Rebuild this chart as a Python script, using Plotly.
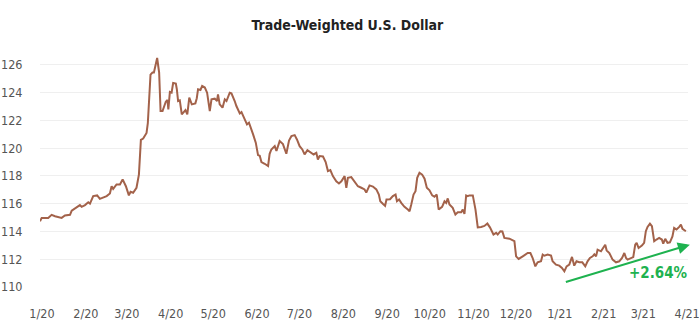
import pandas as pd
import plotly.graph_objects as go

# Days since 2020-01-01 and index values
day = [-1.4, -0.2, 4.4, 6.8, 9.2, 12.7, 13.9, 16.2, 19.8, 21.0, 24.5, 26.8, 28.0, 30.4, 32.7, 33.9,
       36.2, 39.0, 40.9, 45.7, 48.0, 49.2, 50.3, 52.7, 55.1, 57.0, 59.3, 61.4, 62.6, 64.4, 66.8, 68.5,
       69.9, 71.5, 73.9, 74.8, 76.7, 78.1, 79.1, 79.8, 81.4, 82.8, 83.8, 85.2, 87.5, 88.7, 89.3, 90.4,
       91.6, 92.7, 94.6, 95.3, 96.2, 97.4, 98.8, 101.4, 102.7, 104.1, 105.9, 108.4, 109.4, 110.3, 112.0,
       113.2, 115.1, 116.7, 118.6, 119.8, 122.1, 123.7, 124.4, 125.6, 127.6, 129.2, 130.4, 132.7, 133.9,
       136.2, 137.4, 139.8, 141.0, 143.3, 144.9, 146.3, 148.0, 149.2, 151.1, 152.7, 153.9, 155.1, 157.4,
       159.8, 160.9, 162.1, 164.5, 165.7, 168.0, 170.3, 172.7, 174.6, 176.3, 178.6, 180.2, 182.1, 184.0,
       185.6, 187.6, 189.9, 192.0, 193.9, 195.0, 196.2, 198.6, 200.5, 202.1, 203.8, 205.6, 208.0, 209.9,
       211.6, 213.9, 215.1, 216.2, 218.6, 221.0, 223.3, 225.7, 228.0, 229.2, 231.5, 233.9, 236.3, 238.1,
       239.1, 240.9, 242.5, 243.5, 246.0, 248.0, 249.9, 250.9, 252.4, 253.9, 256.2, 258.6, 259.8, 261.0,
       262.6, 264.0, 265.2, 266.8, 268.7, 270.4, 272.0, 273.9, 275.8, 277.4, 279.0, 280.4, 282.8, 284.5,
       285.7, 286.8, 288.0, 290.3, 292.2, 293.9, 296.3, 297.4, 298.6, 299.8, 300.9, 302.1, 304.5, 306.4,
       308.0, 310.4, 312.7, 314.8, 316.6, 319.1, 321.0, 322.1, 324.0, 325.4, 326.8, 330.4, 333.9, 335.1,
       336.9, 339.8, 343.3, 345.2, 346.8, 348.7, 350.3, 352.7, 353.9, 355.1, 357.4, 359.8, 360.9, 363.3,
       365.6, 367.5, 369.2, 370.8, 372.7, 374.6, 376.2, 377.8, 379.8, 381.9, 384.0, 385.6, 387.3, 389.2,
       390.4, 391.6, 392.7, 395.1, 396.7, 398.1, 399.1, 401.0, 403.3, 405.7, 408.0, 410.0, 411.6, 412.8,
       413.9, 416.3, 417.9, 419.3, 420.3, 421.7, 424.0, 425.6, 426.8, 428.0, 429.7, 431.1, 432.7, 434.3,
       436.2, 438.1, 439.1, 440.5, 442.1, 443.8, 445.6, 446.8, 448.5, 450.4, 451.6, 452.7, 453.9, 455.1]

value = [114.74, 114.98, 114.98, 115.2, 115.1, 115.05, 114.98, 115.15, 115.2, 115.5, 115.78, 115.9, 115.78,
         115.9, 116.1, 116.0, 116.55, 116.6, 116.35, 116.55, 116.74, 117.26, 117.07, 117.39, 117.39, 117.75,
         117.26, 116.6, 116.86, 116.79, 117.15, 118.1, 120.6, 120.7, 121.1, 121.8, 125.3, 125.45, 125.45,
         125.8, 126.5, 125.45, 122.68, 122.68, 123.35, 123.47, 122.8, 124.05, 124.0, 124.7, 124.66, 124.25,
         123.4, 123.45, 122.44, 122.75, 122.44, 123.65, 123.16, 123.23, 123.6, 124.25, 124.2, 124.48, 124.37,
         124.0, 122.68, 123.52, 123.57, 123.4, 123.88, 123.16, 122.92, 123.52, 123.4, 124.0, 123.96, 123.4,
         123.04, 122.5, 122.6, 122.08, 121.72, 121.84, 121.24, 121.0, 120.4, 119.5, 119.45, 119.0, 118.88,
         118.72, 119.6, 119.91, 120.15, 119.8, 120.51, 120.3, 119.6, 120.55, 120.87, 120.94, 120.63, 120.15,
         119.91, 119.55, 119.86, 119.67, 119.55, 119.67, 119.19, 119.43, 119.4, 119.0, 118.35, 118.42, 117.99,
         117.62, 117.46, 117.62, 117.99, 117.15, 117.87, 117.92, 117.62, 117.26, 117.15, 117.03, 116.8, 117.32,
         117.24, 117.03, 116.66, 116.18, 116.0, 115.85, 116.3, 116.32, 116.55, 116.66, 116.18, 116.3, 116.06,
         115.78, 115.58, 115.46, 115.94, 116.66, 116.9, 117.87, 118.23, 118.1, 117.8, 117.15, 116.97, 116.6,
         116.5, 116.66, 115.58, 115.78, 116.18, 116.06, 116.38, 115.94, 115.7, 115.22, 115.38, 115.38, 115.58,
         115.27, 116.6, 116.55, 116.6, 116.6, 115.58, 114.3, 114.33, 114.4, 114.57, 114.3, 113.78, 113.9,
         113.78, 114.02, 114.0, 113.54, 113.48, 113.3, 112.21, 112.02, 112.21, 112.45, 112.45, 112.09, 111.49,
         111.78, 111.85, 112.33, 112.25, 112.33, 112.26, 111.85, 111.61, 111.54, 111.37, 111.13, 111.49,
         111.61, 112.17, 111.54, 111.85, 111.78, 111.78, 111.49, 111.85, 112.09, 112.21, 112.35, 112.21,
         112.69, 112.57, 112.81, 113.05, 112.64, 112.45, 111.97, 111.78, 111.85, 112.09, 112.45, 112.09,
         111.97, 112.09, 112.15, 113.05, 113.18, 112.81, 112.98, 113.18, 114.02, 114.33, 114.57, 114.38,
         113.3, 113.42, 113.54, 113.42, 113.13, 113.47, 113.18, 113.22, 113.65, 114.26, 114.14, 114.33,
         114.5, 114.19, 114.09, 114.02]

tick_dates = ["2020-01-01", "2020-02-01", "2020-03-01", "2020-04-01", "2020-05-01", "2020-06-01",
              "2020-07-01", "2020-08-01", "2020-09-01", "2020-10-01", "2020-11-01", "2020-12-01",
              "2021-01-01", "2021-02-01", "2021-03-01", "2021-04-01"]
tick_labels = ["1/20", "2/20", "3/20", "4/20", "5/20", "6/20", "7/20", "8/20", "9/20", "10/20",
               "11/20", "12/20", "1/21", "2/21", "3/21", "4/21"]
y_ticks = [110, 112, 114, 116, 118, 120, 122, 124, 126]

# Trend arrow (days since 2020-01-01, value) and label
arrow_start = (369.2, 110.33)
arrow_end = (457.9, 113.05)
label_pos = (435.6, 111.0)
label_text = "+2.64%"

base = pd.Timestamp("2020-01-01")
dates = base + pd.to_timedelta(day, unit="D")
to_date = lambda d: base + pd.Timedelta(days=d)

FONT = "DejaVu Sans Condensed, Roboto, sans-serif"
GREEN = "#1eb24f"

fig = go.Figure(go.Scatter(x=dates, y=value, mode="lines",
                           line=dict(color="#a3624a", width=2), hoverinfo="skip"))

fig.add_annotation(x=to_date(arrow_end[0]), y=arrow_end[1], ax=to_date(arrow_start[0]), ay=arrow_start[1],
                   xref="x", yref="y", axref="x", ayref="y", text="", showarrow=True,
                   arrowhead=2, arrowsize=1.2, arrowwidth=2, arrowcolor=GREEN)
fig.add_annotation(x=to_date(label_pos[0]), y=label_pos[1], xref="x", yref="y", text=label_text,
                   showarrow=False, font=dict(family=FONT, size=15, color=GREEN, weight="bold"))

fig.update_layout(
    width=699, height=325,
    margin=dict(l=40, r=11, t=53, b=38),
    paper_bgcolor="white", plot_bgcolor="white",
    showlegend=False,
    title=dict(text="<b>Trade-Weighted U.S. Dollar</b>", x=0.497, xanchor="center", y=0.923, yanchor="middle",
               font=dict(family=FONT, size=14, color="#222222")),
    font=dict(family=FONT, size=12.5, color="#555555"),
)
fig.update_xaxes(type="date", range=[to_date(-1.41), to_date(456.6)], tickvals=tick_dates, ticktext=tick_labels,
                 showgrid=False, zeroline=False, showline=False, ticks="outside", ticklen=15,
                 tickcolor="rgba(0,0,0,0)", tickfont=dict(size=12.5, color="#555555"),
                 ticklabeloverflow="allow", automargin=False)
fig.update_yaxes(range=[110, 126.86], tickvals=y_ticks, showgrid=True, gridcolor="#efefef", gridwidth=1,
                 zeroline=False, showline=False, ticks="outside", ticklen=14, tickcolor="rgba(0,0,0,0)",
                 tickfont=dict(size=12.5, color="#555555"), automargin=False)

fig.write_html("out.html")
